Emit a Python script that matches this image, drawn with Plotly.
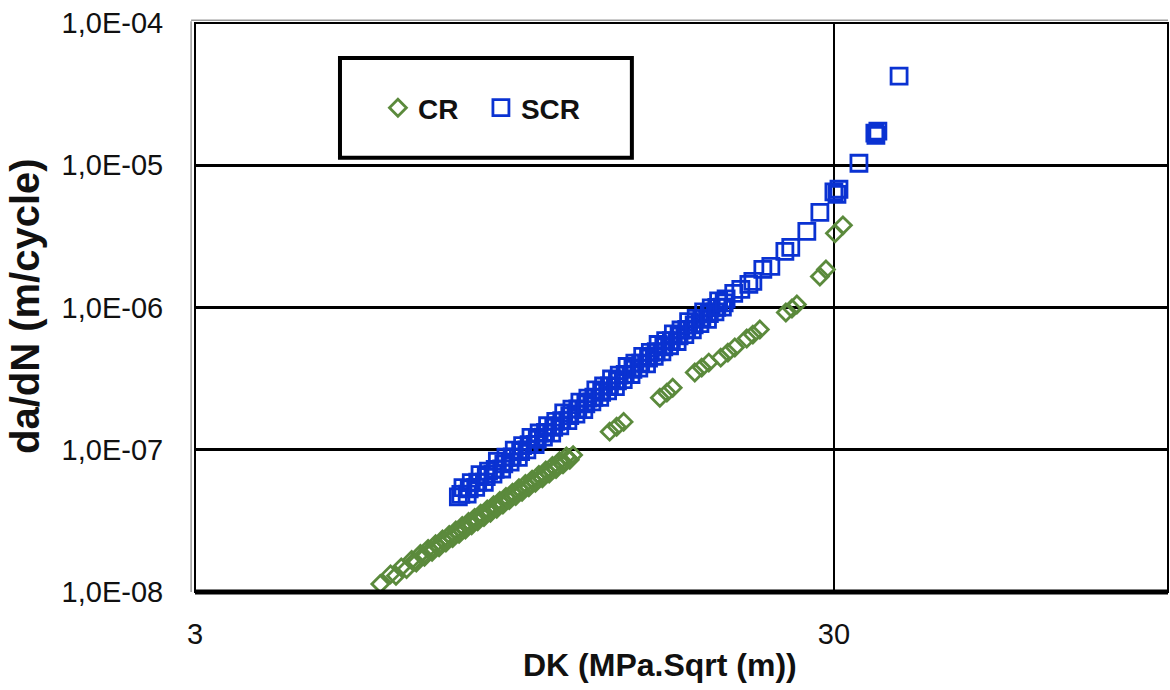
import plotly.graph_objects as go

# Crack growth rate data: stress intensity range DK (MPa.sqrt(m)) vs da/dN (m/cycle)
cr_dk = [5.85, 6.07, 6.19, 6.31, 6.43, 6.55, 6.66, 6.76, 6.86, 6.95, 7.05, 7.14,
         7.23, 7.32, 7.41, 7.50, 7.59, 7.68, 7.77, 7.86, 7.95, 8.04, 8.13, 8.22,
         8.31, 8.40, 8.50, 8.60, 8.70, 8.80, 8.90, 9.00, 9.10, 9.20, 9.31, 9.42,
         9.53, 9.64, 9.75, 9.87, 9.99, 10.11, 10.23, 10.36, 10.49, 10.62, 10.75,
         10.88, 11.02, 11.16, 11.30, 11.44, 11.58, 11.72,
         6.60, 6.81, 7.00, 7.19, 7.37, 7.55, 7.73, 7.91, 8.09, 8.27, 8.45, 8.65,
         8.85, 9.05, 9.26, 9.48, 9.70, 9.93, 10.17, 10.42, 10.68, 10.95, 11.23, 11.51,
         13.37, 13.71, 14.06, 16.02, 16.43, 16.78, 18.17, 18.63, 19.11,
         19.95, 20.47, 20.99, 21.91, 22.40, 22.97, 25.23, 25.79, 26.25,
         28.52, 29.15, 30.11, 30.99]
cr_dadn = [1.14e-8, 1.33e-8, 1.30e-8, 1.49e-8, 1.45e-8, 1.68e-8, 1.61e-8, 1.85e-8,
           1.77e-8, 2.01e-8, 1.92e-8, 2.17e-8, 2.06e-8, 2.34e-8, 2.23e-8, 2.52e-8,
           2.39e-8, 2.71e-8, 2.56e-8, 2.91e-8, 2.75e-8, 3.11e-8, 2.94e-8, 3.32e-8,
           3.14e-8, 3.55e-8, 3.36e-8, 3.80e-8, 3.60e-8, 4.07e-8, 3.85e-8, 4.36e-8,
           4.12e-8, 4.65e-8, 4.42e-8, 5.00e-8, 4.73e-8, 5.36e-8, 5.07e-8, 5.75e-8,
           5.45e-8, 6.17e-8, 5.86e-8, 6.65e-8, 6.31e-8, 7.16e-8, 6.79e-8, 7.70e-8,
           7.32e-8, 8.32e-8, 7.89e-8, 8.96e-8, 8.49e-8, 9.17e-8,
           1.63e-8, 1.80e-8, 1.96e-8, 2.11e-8, 2.29e-8, 2.44e-8, 2.64e-8, 2.81e-8,
           3.03e-8, 3.21e-8, 3.45e-8, 3.67e-8, 3.96e-8, 4.20e-8, 4.54e-8, 4.83e-8,
           5.22e-8, 5.55e-8, 6.02e-8, 6.41e-8, 6.97e-8, 7.44e-8, 8.10e-8, 8.64e-8,
           1.34e-7, 1.45e-7, 1.57e-7, 2.32e-7, 2.52e-7, 2.73e-7, 3.49e-7, 3.78e-7,
           4.10e-7, 4.44e-7, 4.82e-7, 5.23e-7, 6.05e-7, 6.45e-7, 7.00e-7, 9.22e-7,
           9.84e-7, 1.05e-6, 1.65e-6, 1.85e-6, 3.32e-6, 3.78e-6]

scr_dk = [7.75, 7.88, 8.00, 8.12, 8.25, 8.38, 8.51, 8.64, 8.78, 8.92, 9.06, 9.20,
          9.34, 9.48, 9.62, 9.77, 9.92, 10.07, 10.22, 10.37, 10.53, 10.69, 10.85,
          11.01, 11.17, 11.33, 11.50, 11.67, 11.84, 12.01, 12.18, 12.36, 12.54,
          12.72, 12.90, 13.08, 13.27, 13.46, 13.65, 13.84, 14.04, 14.24, 14.44,
          14.64, 14.85, 15.06, 15.27, 15.48, 15.70, 15.92, 16.14, 16.36, 16.59,
          16.82, 17.05, 17.29, 17.53, 17.77, 18.01, 18.26, 18.51, 18.76, 19.02,
          19.28, 19.54, 19.80, 20.07, 20.34,
          7.82, 8.06, 8.31, 8.57, 8.85, 9.13, 9.41, 9.70, 10.00, 10.30, 10.61,
          10.93, 11.25, 11.58, 11.92, 12.27, 12.63, 12.99, 13.36, 13.75, 14.14,
          14.54, 14.95, 15.38, 15.81, 16.25, 16.70, 17.17, 17.65, 18.13, 18.64,
          19.15, 19.67, 20.20,
          20.91, 21.45, 22.08, 22.40, 23.22, 23.90, 25.14, 25.68, 27.21, 28.52,
          30.00, 30.33, 30.55, 32.83, 34.77, 34.90, 35.15, 37.94]
scr_dadn = [4.67e-8, 5.42e-8, 4.87e-8, 5.88e-8, 5.44e-8, 6.69e-8, 5.91e-8, 7.07e-8,
            6.75e-8, 8.30e-8, 7.32e-8, 8.86e-8, 8.18e-8, 9.94e-8, 8.83e-8, 1.068e-7,
            9.97e-8, 1.223e-7, 1.089e-7, 1.311e-7, 1.225e-7, 1.475e-7, 1.309e-7,
            1.581e-7, 1.473e-7, 1.818e-7, 1.602e-7, 1.932e-7, 1.781e-7, 2.160e-7,
            1.912e-7, 2.309e-7, 2.173e-7, 2.633e-7, 2.335e-7, 2.807e-7, 2.590e-7,
            3.142e-7, 2.779e-7, 3.346e-7, 3.116e-7, 3.847e-7, 3.381e-7, 4.061e-7,
            3.744e-7, 4.540e-7, 4.019e-7, 4.833e-7, 4.541e-7, 5.495e-7, 4.869e-7,
            5.849e-7, 5.384e-7, 6.522e-7, 5.766e-7, 6.946e-7, 6.453e-7, 7.953e-7,
            6.973e-7, 8.384e-7, 7.711e-7, 9.328e-7, 8.252e-7, 9.929e-7, 9.306e-7,
            1.114e-6, 1.006e-6, 1.149e-6,
            4.85e-8, 5.30e-8, 5.92e-8, 6.48e-8, 7.28e-8, 7.96e-8, 8.92e-8, 9.72e-8,
            1.088e-7, 1.184e-7, 1.322e-7, 1.438e-7, 1.602e-7, 1.738e-7, 1.936e-7,
            2.101e-7, 2.340e-7, 2.534e-7, 2.814e-7, 3.053e-7, 3.389e-7, 3.668e-7,
            4.069e-7, 4.410e-7, 4.886e-7, 5.282e-7, 5.851e-7, 6.326e-7, 7.012e-7,
            7.560e-7, 8.387e-7, 9.051e-7, 1.001e-6, 1.079e-6,
            1.255e-6, 1.339e-6, 1.452e-6, 1.524e-6, 1.852e-6, 1.944e-6, 2.48e-6,
            2.65e-6, 3.43e-6, 4.67e-6, 6.50e-6, 6.25e-6, 6.78e-6, 1.033e-5,
            1.68e-5, 1.62e-5, 1.74e-5, 4.23e-5]

y_tickvals = [1e-8, 1e-7, 1e-6, 1e-5, 1e-4]
y_ticktext = ["1,0E-08", "1,0E-07", "1,0E-06", "1,0E-05", "1,0E-04"]
x_tickvals = [3, 30]
x_ticktext = ["3", "30"]

GREEN = "#5B8A3C"
BLUE = "#0A32D2"
FONT = "Liberation Sans, Arial, sans-serif"

fig = go.Figure()
fig.add_trace(go.Scatter(
    x=cr_dk, y=cr_dadn, mode="markers", name="CR",
    marker=dict(symbol="diamond-open", size=13, color=GREEN,
                line=dict(width=2.8, color=GREEN)),
))
fig.add_trace(go.Scatter(
    x=scr_dk, y=scr_dadn, mode="markers", name="SCR",
    marker=dict(symbol="square-open", size=16, color=BLUE,
                line=dict(width=2.8, color=BLUE)),
))

fig.update_xaxes(
    type="log", range=[0.47712, 2.0],
    tickvals=x_tickvals, ticktext=x_ticktext,
    showgrid=True, gridcolor="black", gridwidth=2,
    zeroline=False, showline=False,
    ticks="outside", ticklen=16, tickcolor="rgba(0,0,0,0)",
    tickfont=dict(family=FONT, size=29, color="#111"),
)
fig.update_yaxes(
    type="log", range=[-8, -4],
    tickvals=y_tickvals, ticktext=y_ticktext,
    showgrid=True, gridcolor="black", gridwidth=3,
    zeroline=False, showline=False,
    ticks="outside", ticklen=25, tickcolor="rgba(0,0,0,0)",
    tickfont=dict(family=FONT, size=29, color="#111"),
)

shapes = [
    # plot-area frame
    dict(type="rect", xref="paper", yref="paper", x0=0, x1=1, y0=0, y1=1,
         line=dict(color="black", width=2), layer="above"),
    dict(type="line", xref="paper", yref="paper", x0=-0.004, x1=-0.004, y0=0, y1=1.003,
         line=dict(color="#9a9a9a", width=1.5), layer="above"),
    dict(type="line", xref="paper", yref="paper", x0=-0.004, x1=1, y0=1.005, y1=1.005,
         line=dict(color="#9a9a9a", width=1.5), layer="above"),
    # heavy baseline
    dict(type="line", xref="paper", yref="paper", x0=0, x1=1, y0=0, y1=0,
         line=dict(color="black", width=5), layer="above"),
    # legend box
    dict(type="rect", xref="paper", yref="paper", x0=0.149, x1=0.449,
         y0=0.763, y1=0.9385, line=dict(color="black", width=4),
         fillcolor="white", layer="above"),
]

annotations = [
    dict(text="<b>DK (MPa.Sqrt (m))</b>", xref="paper", yref="paper",
         x=0.478, y=-0.128, xanchor="center", yanchor="middle", showarrow=False,
         font=dict(family=FONT, size=32, color="#111")),
    dict(text="<b>da/dN (m/cycle)</b>", xref="paper", yref="paper",
         x=-0.1747, y=0.5026, xanchor="center", yanchor="middle", showarrow=False,
         textangle=-90, font=dict(family=FONT, size=40, color="#111")),
]

fig.update_layout(
    width=1170, height=690,
    margin=dict(l=195, r=2, t=23, b=98),
    paper_bgcolor="white", plot_bgcolor="white",
    showlegend=True,
    legend=dict(orientation="h", x=0.188, y=0.8506, xanchor="left", yanchor="middle",
                bgcolor="rgba(0,0,0,0)", borderwidth=0,
                font=dict(family=FONT, size=28, color="#111", weight="bold"),
                entrywidth=58, entrywidthmode="pixels"),
    shapes=shapes,
    annotations=annotations,
)

fig.write_html("out.html")
